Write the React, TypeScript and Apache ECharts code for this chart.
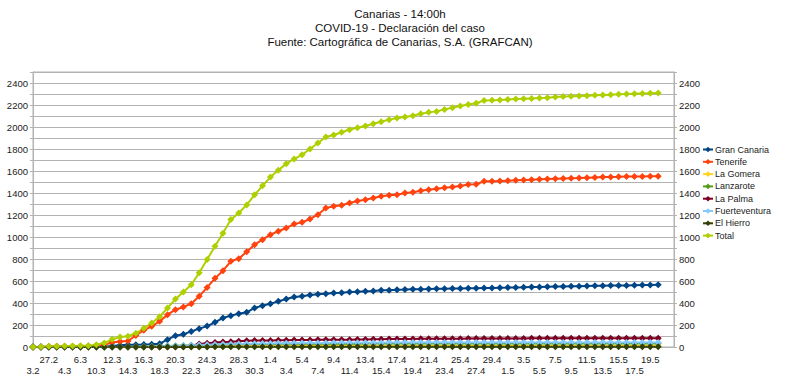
import React, { useEffect, useRef } from 'react';
import * as echarts from 'echarts';

const titleLines = [
  'Canarias - 14:00h',
  'COVID-19 - Declaración del caso',
  'Fuente: Cartográfica de Canarias, S.A. (GRAFCAN)',
];

const categories = [
  '3.2', '25.2', '27.2', '1.3', '4.3', '5.3', '6.3', '9.3', '10.3', '11.3',
  '12.3', '13.3', '14.3', '15.3', '16.3', '17.3', '18.3', '19.3', '20.3', '21.3',
  '22.3', '23.3', '24.3', '25.3', '26.3', '27.3', '28.3', '29.3', '30.3', '31.3',
  '1.4', '2.4', '3.4', '4.4', '5.4', '6.4', '7.4', '8.4', '9.4', '10.4',
  '11.4', '12.4', '13.4', '14.4', '15.4', '16.4', '17.4', '18.4', '19.4', '20.4',
  '21.4', '22.4', '23.4', '24.4', '25.4', '26.4', '27.4', '28.4', '29.4', '30.4',
  '1.5', '2.5', '3.5', '4.5', '5.5', '6.5', '7.5', '8.5', '9.5', '10.5',
  '11.5', '12.5', '13.5', '14.5', '15.5', '16.5', '17.5', '18.5', '19.5', '20.5',
  '21.5', '22.5',
];

const granCanaria = [
  0, 0, 0, 0, 0, 1, 1, 2, 2, 3,
  10, 15, 20, 20, 22, 25, 30, 67, 103, 115,
  142, 167, 190, 224, 264, 285, 303, 315, 355, 376,
  394, 415, 436, 455, 461, 473, 479, 485, 491, 494,
  500, 503, 506, 509, 515, 517, 521, 522, 524, 526,
  527, 530, 530, 531, 531, 533, 533, 537, 537, 539,
  540, 542, 543, 545, 546, 548, 549, 550, 552, 553,
  555, 556, 557, 558, 559, 560, 562, 563, 564, 565,
];

const tenerife = [
  0, 1, 5, 6, 6, 7, 7, 8, 12, 20,
  40, 50, 55, 105, 152, 188, 233, 294, 339, 364,
  394, 461, 542, 624, 694, 779, 803, 865, 930, 976,
  1021, 1052, 1082, 1118, 1133, 1164, 1203, 1264, 1279, 1288,
  1309, 1327, 1339, 1355, 1370, 1379, 1385, 1400, 1406, 1421,
  1430, 1439, 1447, 1455, 1464, 1478, 1480, 1506, 1507, 1509,
  1512, 1515, 1518, 1521, 1524, 1527, 1530, 1532, 1534, 1536,
  1539, 1542, 1545, 1546, 1547, 1549, 1550, 1551, 1552, 1553,
];

const laGomera = [
  1, 1, 1, 1, 1, 1, 1, 1, 1, 1,
  1, 1, 1, 1, 1, 2, 3, 3, 4, 4,
  5, 5, 6, 6, 6, 7, 7, 7, 7, 7,
  7, 7, 7, 7, 8, 8, 8, 8, 8, 8,
  8, 8, 8, 8, 8, 8, 8, 8, 8, 8,
  8, 8, 8, 8, 8, 8, 8, 8, 8, 8,
  8, 8, 8, 8, 8, 8, 8, 8, 8, 8,
  8, 8, 8, 8, 8, 8, 8, 8, 8, 8,
];

const lanzarote = [
  0, 0, 0, 0, 0, 0, 0, 0, 0, 0,
  0, 0, 1, 2, 3, 5, 7, 9, 11, 13,
  15, 18, 20, 22, 24, 25, 26, 27, 27, 28,
  28, 29, 29, 29, 30, 30, 30, 30, 30, 30,
  30, 30, 31, 31, 31, 31, 31, 31, 31, 31,
  31, 31, 31, 31, 31, 31, 32, 32, 32, 32,
  32, 32, 32, 32, 32, 32, 32, 32, 32, 32,
  32, 32, 32, 32, 32, 32, 32, 32, 32, 32,
];

const laPalma = [
  0, 0, 0, 0, 0, 0, 0, 0, 0, 0,
  0, 0, 0, 0, 0, 0, 0, 2, 3, 5,
  12, 28, 35, 40, 45, 48, 52, 56, 58, 59,
  60, 61, 62, 63, 63, 64, 65, 65, 66, 66,
  67, 68, 69, 70, 71, 72, 72, 73, 73, 74,
  74, 75, 75, 76, 76, 77, 77, 78, 78, 78,
  78, 78, 78, 79, 79, 79, 79, 79, 79, 79,
  80, 80, 80, 80, 80, 80, 80, 80, 80, 80,
];

const fuerteventura = [
  0, 0, 0, 0, 0, 0, 0, 0, 0, 0,
  0, 0, 0, 0, 2, 3, 5, 8, 10, 12,
  15, 18, 20, 22, 24, 26, 27, 29, 30, 31,
  32, 33, 34, 35, 36, 36, 37, 37, 38, 38,
  39, 39, 39, 39, 39, 40, 40, 40, 40, 40,
  40, 40, 40, 40, 41, 41, 41, 41, 41, 41,
  41, 41, 41, 41, 41, 41, 42, 42, 42, 42,
  42, 42, 42, 42, 42, 42, 42, 42, 42, 42,
];

const elHierro = [
  0, 0, 0, 0, 0, 0, 0, 0, 0, 0,
  0, 0, 0, 0, 0, 0, 0, 0, 0, 1,
  1, 1, 1, 2, 2, 2, 2, 3, 3, 3,
  3, 3, 3, 3, 3, 3, 3, 3, 3, 3,
  3, 3, 3, 3, 3, 3, 3, 3, 3, 3,
  3, 3, 3, 3, 3, 3, 3, 3, 3, 3,
  3, 3, 3, 3, 3, 3, 3, 3, 3, 3,
  3, 3, 3, 3, 3, 3, 3, 3, 3, 3,
];

const total = [
  1, 3, 6, 7, 8, 10, 11, 12, 20, 36,
  70, 90, 98, 125, 170, 218, 275, 355, 436, 500,
  565, 675, 795, 915, 1035, 1158, 1218, 1292, 1383, 1465,
  1545, 1606, 1667, 1709, 1748, 1800, 1855, 1909, 1927, 1952,
  1976, 1994, 2009, 2030, 2048, 2067, 2082, 2091, 2103, 2121,
  2133, 2142, 2160, 2176, 2191, 2205, 2216, 2242, 2243, 2246,
  2251, 2254, 2257, 2260, 2263, 2267, 2272, 2277, 2279, 2282,
  2285, 2288, 2291, 2294, 2297, 2300, 2302, 2304, 2306, 2308,
];

const seriesNames = ['Gran Canaria', 'Tenerife', 'La Gomera', 'Lanzarote', 'La Palma', 'Fuerteventura', 'El Hierro', 'Total'];
const seriesData = [granCanaria, tenerife, laGomera, lanzarote, laPalma, fuerteventura, elHierro, total];
const seriesColors = ['#004586', '#ff420e', '#ffd320', '#579d1c', '#7e0021', '#83caff', '#314004', '#aecf00'];

const lastDataIndex = total.length - 1;
const axisGray = '#b3b3b3';
const font = 'Liberation Sans, Arial, sans-serif';

export default function App() {
  const ref = useRef<HTMLDivElement>(null);
  useEffect(() => {
    if (!ref.current) return;
    const chart = echarts.init(ref.current, null, { renderer: 'svg' });
    const yAxisBase = {
      type: 'value',
      min: 0,
      max: 2500,
      interval: 100,
      axisLine: { show: true, lineStyle: { color: axisGray, width: 1 } },
      axisTick: { show: true, length: 3, lineStyle: { color: axisGray } },
      axisLabel: {
        fontSize: 9.5,
        color: '#222',
        fontFamily: font,
        margin: 5,
        formatter: (v: number) => (v % 200 === 0 && v <= 2400 ? String(v) : ''),
      },
    };
    chart.setOption({
      animation: false,
      textStyle: { fontFamily: font },
      title: {
        text: titleLines.join('\n'),
        left: 'center',
        top: 2,
        textStyle: { fontSize: 11.5, fontWeight: 'normal', lineHeight: 14, color: '#111', fontFamily: font },
      },
      legend: {
        orient: 'vertical',
        left: 702,
        top: 145,
        padding: 0,
        itemWidth: 10,
        itemHeight: 7,
        itemGap: 3.3,
        textStyle: { fontSize: 9, color: '#222', fontFamily: font, padding: [0, 0, 0, -3] },
        data: seriesNames,
      },
      grid: {
        left: 33,
        right: 126,
        top: 72,
        bottom: 40,
        show: true,
        borderColor: axisGray,
        borderWidth: 1,
      },
      xAxis: {
        type: 'category',
        boundaryGap: false,
        data: categories,
        axisLine: { show: true, lineStyle: { color: axisGray } },
        axisTick: { show: false },
        splitLine: { show: false },
        axisLabel: {
          interval: 1,
          fontSize: 9.5,
          lineHeight: 11,
          color: '#222',
          fontFamily: font,
          margin: 7,
          formatter: (value: string, index: number) => {
            if (index > lastDataIndex) return '';
            return index % 4 === 0 ? '\n' + value : value;
          },
        },
      },
      yAxis: [
        {
          ...yAxisBase,
          position: 'left',
          splitLine: { show: true, lineStyle: { color: axisGray, width: 1 } },
        },
        {
          ...yAxisBase,
          position: 'right',
          splitLine: { show: false },
        },
      ],
      series: seriesNames.map((name, i) => ({
        name,
        type: 'line',
        data: seriesData[i],
        symbol: 'diamond',
        symbolSize: 7,
        showAllSymbol: true,
        lineStyle: { width: 2, color: seriesColors[i] },
        itemStyle: { color: seriesColors[i] },
        emphasis: { disabled: true },
      })),
    });
    return () => chart.dispose();
  }, []);
  return (
    <div
      ref={ref}
      style={{ position: 'fixed', left: 0, top: 0, width: 800, height: 387, background: '#fff' }}
    />
  );
}
